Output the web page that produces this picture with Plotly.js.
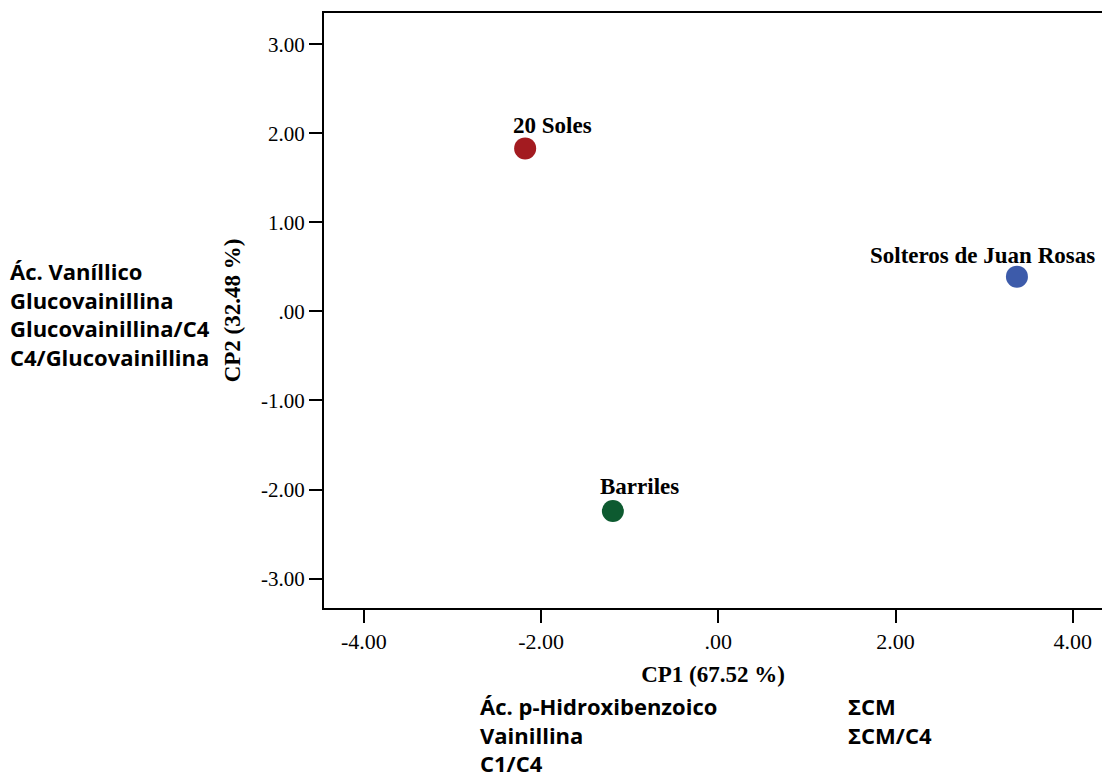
<!DOCTYPE html>
<html><head><meta charset="utf-8">
<script src="https://cdn.plot.ly/plotly-3.0.1.min.js"></script>
<style>html,body{margin:0;padding:0;background:#fff}#chart{width:1102px;height:778px}</style>
</head><body><div id="chart"></div>
<script>
// Data
const sampleNames = ["20 Soles", "Solteros de Juan Rosas", "Barriles"];
const cp1 = [-2.18, 3.37, -1.19];
const cp2 = [1.83, 0.39, -2.24];
const xTickVals = [-4, -2, 0, 2, 4];
const xTickText = ["-4.00", "-2.00", ".00", "2.00", "4.00"];
const yTickVals = [-3, -2, -1, 0, 1, 2, 3];
const yTickText = ["-3.00", "-2.00", "-1.00", ".00", "1.00", "2.00", "3.00"];
const leftVariables = ["Ác. Vaníllico", "Glucovainillina", "Glucovainillina/C4", "C4/Glucovainillina"];
const bottomVariablesA = ["Ác. p-Hidroxibenzoico", "Vainillina", "C1/C4"];
const bottomVariablesB = ["ΣCM", "ΣCM/C4"];
const xTitle = "CP1 (67.52 %)";
const yTitle = "CP2 (32.48 %)";

// Styles
const colors = ["#A31B20", "#3D5BAA", "#0D5A30"];
const labelShift = [[27, 23], [-34, 21], [27, 24]];
const serif = "Liberation Serif, Times New Roman, serif";
const sans = "Open Sans, Lato, sans-serif";

const trace = {
  x: cp1, y: cp2, mode: "markers", type: "scatter",
  marker: {size: 22, color: colors},
  hoverinfo: "skip", showlegend: false, cliponaxis: false
};

const W = 1102, H = 778, mL = 324, mR = 0, mT = 13, mB = 170;
const pw = W - mL - mR, ph = H - mT - mB;
function px2paper(px, py) { return [(px - mL) / pw, (H - mB - py) / ph]; }

const annotations = sampleNames.map((n, i) => ({
  x: cp1[i], y: cp2[i], xref: "x", yref: "y", text: n, showarrow: false,
  xanchor: "center", yanchor: "middle", xshift: labelShift[i][0], yshift: labelShift[i][1],
  font: {family: serif, size: 23, color: "#000", weight: "bold"}
}));
function addBlock(lines, px, py, yanchor) {
  const p = px2paper(px, py);
  annotations.push({x: p[0], y: p[1], xref: "paper", yref: "paper",
    text: lines.map(t => "<b>" + t + "</b>").join("<br>"), align: "left",
    showarrow: false, xanchor: "left", yanchor: yanchor, borderpad: 0,
    font: {family: sans, size: 22, color: "#000"}});
}
addBlock(leftVariables, 9, 313.5, "middle");
addBlock(bottomVariablesA, 479, 690, "top");
addBlock(bottomVariablesB, 847, 690, "top");

const layout = {
  width: W, height: H,
  margin: {l: mL, r: mR, t: mT, b: mB, pad: 0},
  paper_bgcolor: "#fff", plot_bgcolor: "#fff",
  xaxis: {
    range: [-4.45, 4.33], tickvals: xTickVals, ticktext: xTickText,
    showgrid: false, zeroline: false, showline: true, linecolor: "#000", linewidth: 2,
    mirror: true, ticks: "outside", ticklen: 13, tickwidth: 2, tickcolor: "#000",
    tickfont: {family: serif, size: 22, color: "#000"},
    title: {text: xTitle, font: {family: serif, size: 23, color: "#000", weight: "bold"}, standoff: 12}
  },
  yaxis: {
    range: [-3.33, 3.35], tickvals: yTickVals, ticktext: yTickText,
    showgrid: false, zeroline: false, showline: true, linecolor: "#000", linewidth: 2,
    ticks: "outside", ticklen: 13, tickwidth: 2, tickcolor: "#000",
    tickfont: {family: serif, size: 21, color: "#000"},
    title: {text: yTitle, font: {family: serif, size: 23, color: "#000", weight: "bold"}, standoff: 14}
  },
  annotations: annotations
};

Plotly.newPlot("chart", [trace], layout, {displayModeBar: false, staticPlot: true});
</script></body></html>
